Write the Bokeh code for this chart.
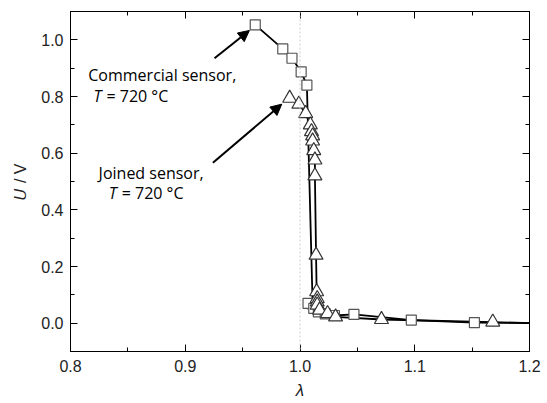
import math
from bokeh.plotting import figure
from bokeh.models import (Range1d, LinearAxis, FixedTicker, PrintfTickFormatter,
                          CustomJSTickFormatter, Span, Label, Arrow, NormalHead)
from bokeh.embed import file_html
from bokeh.resources import INLINE

# ---- data ----
# Commercial sensor (squares), in measurement order
lam_comm = [0.961, 0.985, 0.993, 1.001, 1.006, 1.011, 1.007, 1.012, 1.016, 1.022, 1.030, 1.047, 1.097, 1.152]
u_comm = [1.053, 0.968, 0.935, 0.887, 0.840, 0.068, 0.070, 0.052, 0.040, 0.033, 0.027, 0.031, 0.011, 0.002]
# Joined sensor (triangles)
lam_join = [0.991, 0.999, 1.005, 1.009, 1.010, 1.011, 1.011, 1.012, 1.013, 1.013, 1.014,
            1.0145, 1.015, 1.015, 1.015, 1.017, 1.024, 1.031, 1.071, 1.168]
u_join = [0.794, 0.773, 0.740, 0.700, 0.676, 0.661, 0.643, 0.609, 0.576, 0.520, 0.240,
          0.111, 0.087, 0.075, 0.064, 0.046, 0.034, 0.022, 0.013, 0.004]
# line continuation beyond the last marker
lam_tail = [1.2]
u_comm_tail = [0.0]
u_join_tail = [0.0]

x_ticks = [0.8, 0.9, 1.0, 1.1, 1.2]
x_minor = [0.85, 0.95, 1.05, 1.15]
y_ticks = [0.0, 0.2, 0.4, 0.6, 0.8, 1.0]
y_minor = [-0.1, 0.1, 0.3, 0.5, 0.7, 0.9, 1.1]

FONT = "Liberation Sans"
AFONT = "Open Sans"

p = figure(width=546, height=402, output_backend="svg", toolbar_location=None,
           x_range=Range1d(0.8, 1.2), y_range=Range1d(-0.1, 1.1),
           min_border_left=70, min_border_right=17, min_border_top=11, min_border_bottom=50)
p.grid.visible = False
p.outline_line_color = "black"
p.outline_line_width = 1
p.background_fill_color = "white"
p.border_fill_color = "white"

def style_axis(ax, ticks, minor, show_labels):
    ax.ticker = FixedTicker(ticks=ticks, minor_ticks=minor)
    ax.major_tick_in = 7
    ax.major_tick_out = 0
    ax.minor_tick_in = 4
    ax.minor_tick_out = 0
    ax.axis_line_color = "black"
    ax.major_tick_line_color = "black"
    ax.minor_tick_line_color = "black"
    if show_labels:
        ax.formatter = PrintfTickFormatter(format="%.1f")
        ax.major_label_text_font = FONT
        ax.major_label_text_font_size = "16px"
        ax.major_label_text_color = "#222222"
    else:
        ax.formatter = CustomJSTickFormatter(code="return ''")
        ax.major_label_standoff = 0

style_axis(p.xaxis[0], x_ticks, x_minor, True)
style_axis(p.yaxis[0], y_ticks, y_minor, True)
p.xaxis[0].major_label_standoff = 8
p.yaxis[0].major_label_standoff = 7

# axis titles
p.xaxis[0].axis_label = "λ"
p.xaxis[0].axis_label_text_font = FONT
p.xaxis[0].axis_label_text_font_style = "italic"
p.xaxis[0].axis_label_text_font_size = "17px"
p.xaxis[0].axis_label_text_color = "#222222"
p.xaxis[0].axis_label_standoff = 6

p.yaxis[0].axis_label = "\U0001D448 / V"
p.yaxis[0].axis_label_text_font = FONT
p.yaxis[0].axis_label_text_font_style = "normal"
p.yaxis[0].axis_label_text_font_size = "16px"
p.yaxis[0].axis_label_text_color = "#222222"
p.yaxis[0].axis_label_standoff = 9

top = LinearAxis()
style_axis(top, x_ticks, x_minor, False)
p.add_layout(top, "above")
right = LinearAxis()
style_axis(right, y_ticks, y_minor, False)
p.add_layout(right, "right")

# dotted reference line at lambda = 1
p.add_layout(Span(location=1.0, dimension="height", line_color="#cccccc",
                  line_dash="2 2", line_width=1))

# curves
p.line(lam_comm + lam_tail, u_comm + u_comm_tail, line_color="black", line_width=1.8)
p.line(lam_join + lam_tail, u_join + u_join_tail, line_color="black", line_width=1.8)

p.scatter(lam_comm, u_comm, marker="square", size=10, fill_color="white",
          line_color="#555555", line_width=1.2)
p.scatter(lam_join, u_join, marker="triangle", size=14, fill_color="white",
          line_color="#333333", line_width=1.2)

# arrows
p.add_layout(Arrow(end=NormalHead(size=11, fill_color="black", line_color="black"),
                   x_start=0.9255, y_start=0.935, x_end=0.9559, y_end=1.033,
                   line_width=2, line_color="black"))
p.add_layout(Arrow(end=NormalHead(size=11, fill_color="black", line_color="black"),
                   x_start=0.9241, y_start=0.566, x_end=0.9841, y_end=0.773,
                   line_width=2, line_color="black"))

def lab(text, x, y, style="normal", xoff=0):
    p.add_layout(Label(x=x, y=y, text=text, text_font=AFONT, text_font_size="16px",
                       text_font_style=style, text_color="black", x_offset=xoff,
                       text_align="left", text_baseline="alphabetic"))

lab("Commercial sensor,", 0.8155, 0.876)
lab("T", 0.820, 0.802, style="italic")
lab("= 720 °C", 0.820, 0.802, xoff=13)
lab("Joined sensor,", 0.8245, 0.529)
lab("T", 0.8333, 0.458, style="italic")
lab("= 720 °C", 0.8333, 0.458, xoff=13)

open("out.html", "w").write(file_html(p, INLINE))
